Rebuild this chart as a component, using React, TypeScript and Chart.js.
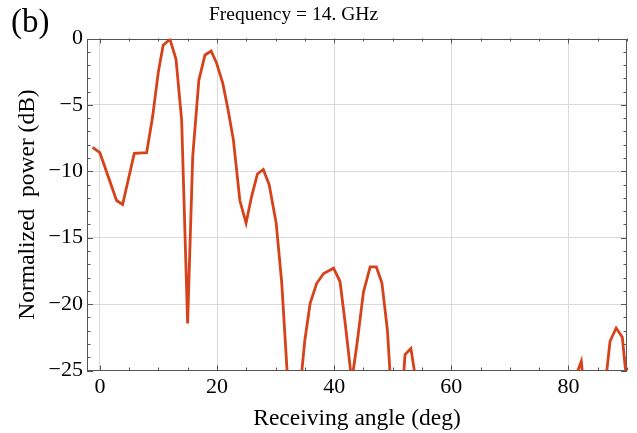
import { useEffect, useRef } from 'react';
import { Chart, registerables } from 'chart.js';

Chart.register(...registerables);

// ---- data ----
const angles = [
  -1.25, 0.0, 2.85, 3.88, 5.87, 7.98, 9.0, 9.97, 10.8, 11.97, 13.0, 13.96, 14.98, 15.85, 16.9,
  17.95, 19.0, 19.9, 21.0, 21.9, 22.8, 23.9, 24.96, 25.9, 26.9, 27.9, 28.9, 30.1, 31.05, 32.3,
  33.6, 35.0, 35.9, 37.0, 38.2, 39.9, 41.0, 41.9, 43.0, 43.9, 45.0, 46.15, 47.2, 48.15, 49.1,
  50.2, 51.3, 52.1, 53.1, 54.4, 55.5, 57.0, 59.0, 61.5, 64.0, 66.5, 69.0, 71.5, 74.0, 76.5,
  79.0, 81.2, 82.2, 83.2, 84.6, 85.7, 87.1, 88.15, 89.2, 90.2,
];
const powerDb = [
  -8.2, -8.6, -12.2, -12.5, -8.65, -8.6, -5.9, -2.55, -0.5, -0.06, -1.57, -6.14, -21.46, -8.9, -3.13,
  -1.24, -0.94, -1.82, -3.4, -5.4, -7.65, -12.2, -13.9, -11.9, -10.2, -9.86, -11.0, -13.9, -18.4, -27.5,
  -29.0, -22.7, -19.95, -18.45, -17.7, -17.3, -18.3, -21.5, -25.8, -23.0, -19.1, -17.2, -17.2, -18.4, -22.0,
  -30.0, -29.0, -23.8, -23.35, -27.0, -33.0, -29.0, -36.0, -30.0, -34.0, -28.5, -33.0, -28.0, -35.0, -29.0,
  -32.0, -25.5, -24.3, -29.0, -33.0, -28.5, -22.8, -21.8, -22.5, -27.0,
];

const xTickValues = [0, 20, 40, 60, 80];
const xTickLabels = ['0', '20', '40', '60', '80'];
const yTickValues = [0, -5, -10, -15, -20, -25];
const yTickLabels = ['0', '\u22125', '\u221210', '\u221215', '\u221220', '\u221225'];
const xMinorStep = 5;
const yMinorStep = 1;

const chartTitle = 'Frequency = 14. GHz';
const panelLabel = '(b)';
const xAxisTitle = 'Receiving angle (deg)';
const yAxisTitle = 'Normalized  power (dB)';

const SERIF = "'Liberation Serif', 'Times New Roman', serif";
const LINE_COLOR = '#D6421A';
const FRAME_COLOR = '#555555';
const GRID_COLOR = '#dadada';

const frameTicksPlugin = {
  id: 'frameTicks',
  beforeDatasetsDraw(chart: any) {
    const { ctx, chartArea: a, scales } = chart;
    const x = scales.x;
    const y = scales.y;
    ctx.save();
    ctx.strokeStyle = FRAME_COLOR;
    ctx.lineWidth = 1;
    ctx.beginPath();
    for (let v = 0; v <= x.max; v += xMinorStep) {
      const p = Math.round(x.getPixelForValue(v)) + 0.5;
      const len = v % 20 === 0 ? 5 : 3;
      ctx.moveTo(p, a.bottom);
      ctx.lineTo(p, a.bottom - len);
      ctx.moveTo(p, a.top);
      ctx.lineTo(p, a.top + len);
    }
    for (let v = y.max; v >= y.min; v -= yMinorStep) {
      const p = Math.round(y.getPixelForValue(v)) + 0.5;
      const len = v % 5 === 0 ? 6 : 3.5;
      ctx.moveTo(a.left, p);
      ctx.lineTo(a.left + len, p);
      ctx.moveTo(a.right, p);
      ctx.lineTo(a.right - len, p);
    }
    ctx.stroke();
    ctx.strokeRect(Math.round(a.left) + 0.5, Math.round(a.top) + 0.5, Math.round(a.width) - 1, Math.round(a.height) - 1);
    ctx.restore();
  },
  afterDraw(chart: any) {
    const { ctx } = chart;
    ctx.save();
    ctx.fillStyle = '#000';
    ctx.textBaseline = 'alphabetic';
    ctx.textAlign = 'center';
    ctx.font = `19.5px ${SERIF}`;
    ctx.fillText(chartTitle, 293.5, 20);
    ctx.textAlign = 'left';
    ctx.font = `33px ${SERIF}`;
    ctx.fillText(panelLabel, 11, 32);
    ctx.restore();
  },
};

export default function App() {
  const canvasRef = useRef<HTMLCanvasElement | null>(null);

  useEffect(() => {
    const canvas = canvasRef.current;
    if (!canvas) return;
    const points = angles.map((a, i) => ({ x: a, y: powerDb[i] }));
    const chart = new Chart(canvas, {
      type: 'line',
      data: {
        datasets: [
          {
            data: points,
            borderColor: LINE_COLOR,
            borderWidth: 2.8,
            pointRadius: 0,
            tension: 0,
            fill: false,
          },
        ],
      },
      options: {
        responsive: false,
        maintainAspectRatio: false,
        devicePixelRatio: 1,
        animation: false,
        layout: { padding: { top: 38.5, right: 10, left: 0, bottom: 0 } },
        plugins: {
          legend: { display: false },
          tooltip: { enabled: false },
          title: { display: false },
        },
        scales: {
          x: {
            type: 'linear',
            min: -2.2,
            max: 90,
            afterBuildTicks: (s: any) => {
              s.ticks = xTickValues.map((v) => ({ value: v }));
            },
            afterFit: (s: any) => {
              s.height = 62.5;
            },
            ticks: {
              autoSkip: false,
              maxRotation: 0,
              padding: 4,
              color: '#000',
              font: { family: SERIF, size: 22 },
              callback: (_v: any, i: number) => xTickLabels[i],
            },
            grid: { color: GRID_COLOR, lineWidth: 1, drawTicks: false },
            border: { display: false },
            title: {
              display: true,
              text: xAxisTitle,
              color: '#000',
              font: { family: SERIF, size: 23.5 },
              padding: { top: 0, bottom: 0 },
            },
          },
          y: {
            type: 'linear',
            min: -25,
            max: 0,
            afterBuildTicks: (s: any) => {
              s.ticks = yTickValues.map((v) => ({ value: v }));
            },
            afterFit: (s: any) => {
              s.width = 87;
            },
            ticks: {
              autoSkip: false,
              padding: 4,
              color: '#000',
              font: { family: SERIF, size: 22 },
              callback: (_v: any, i: number) => yTickLabels[i],
            },
            grid: {
              color: (c: any) =>
                c.tick && (c.tick.value === 0 || c.tick.value === -25) ? 'rgba(0,0,0,0)' : GRID_COLOR,
              lineWidth: 1,
              drawTicks: false,
            },
            border: { display: false },
            title: {
              display: true,
              text: yAxisTitle,
              color: '#000',
              font: { family: SERIF, size: 23.5 },
              padding: { top: 14, bottom: 0 },
            },
          },
        },
      },
      plugins: [frameTicksPlugin],
    } as any);
    return () => chart.destroy();
  }, []);

  return (
    <div style={{ position: 'fixed', left: 0, top: 0, width: 637, height: 433, background: '#fff' }}>
      <canvas ref={canvasRef} width={637} height={433} />
    </div>
  );
}
